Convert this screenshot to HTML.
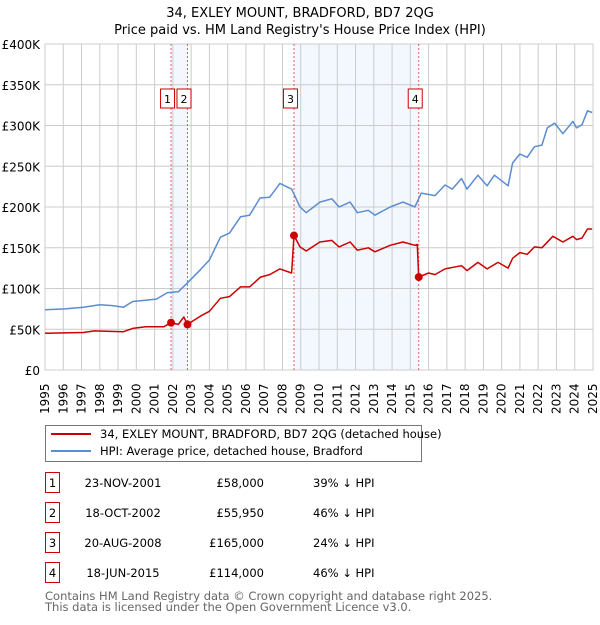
<!DOCTYPE html>
<html><head><meta charset="utf-8"><style>
body{margin:0;background:#fff;font-family:"Liberation Sans","DejaVu Sans",sans-serif;}
svg text{font-family:"DejaVu Sans","Liberation Sans",sans-serif;}
</style></head><body>
<svg id="c" width="600" height="620" xmlns="http://www.w3.org/2000/svg"></svg>
<script>
const hpiYears=[1995,1996.1,1997.1,1998,1998.7,1999.3,1999.8,2001.1,2001.7,2002.3,2002.8,2003.5,2004.0,2004.6,2005.1,2005.7,2006.2,2006.77,2007.3,2007.86,2008.5,2008.96,2009.3,2010.05,2010.7,2011.1,2011.7,2012.1,2012.7,2013.06,2013.9,2014.6,2015.25,2015.6,2016.35,2016.9,2017.3,2017.8,2018.1,2018.7,2019.2,2019.6,2020.35,2020.6,2021.0,2021.4,2021.8,2022.2,2022.5,2022.9,2023.35,2023.9,2024.1,2024.4,2024.7,2024.95];
const hpiValues=[74,75,77,80,79,77,84,87,95,96,107,123,135,163,168,188,190,211,212,229,222,200,193,206,210,200,206,193,196,190,200,206,200,217,214,227,222,235,222,239,226,239,226,254,265,261,274,276,297,303,290,305,297,301,318,316];
const priceYears=[1995,1997.1,1997.7,1999.3,1999.8,2000.5,2001.5,2001.9,2002.3,2002.6,2002.8,2003.5,2004.0,2004.6,2005.1,2005.7,2006.2,2006.8,2007.3,2007.86,2008.5,2008.63,2008.96,2009.3,2010.05,2010.7,2011.1,2011.7,2012.1,2012.7,2013.06,2013.9,2014.6,2015.25,2015.38,2015.46,2016.0,2016.35,2016.9,2017.8,2018.1,2018.7,2019.2,2019.8,2020.35,2020.6,2021.0,2021.4,2021.8,2022.2,2022.8,2023.35,2023.9,2024.1,2024.4,2024.7,2024.95];
const priceValues=[45,46,48,47,51,53,53,58,56,65,55.95,66,72,88,90,102,102,114,117,124,119,165,151,146,157,159,151,157,147,150,145,153,157,153,154,114,119,117,124,128,122,132,124,132,125,137,144,142,151,150,164,157,164,160,162,173,173];
const saleYears=[2001.9,2002.8,2008.63,2015.46];
const saleValues=[58,55.95,165,114];
const saleLabels=["1","2","3","4"];
const saleDates=["23-NOV-2001","18-OCT-2002","20-AUG-2008","18-JUN-2015"];
const salePrices=["£58,000","£55,950","£165,000","£114,000"];
const saleDiffs=["39% ↓ HPI","46% ↓ HPI","24% ↓ HPI","46% ↓ HPI"];
const yTicks=[0,50,100,150,200,250,300,350,400];
const yTickLabels=["£0","£50K","£100K","£150K","£200K","£250K","£300K","£350K","£400K"];
const xTicks=[1995,1996,1997,1998,1999,2000,2001,2002,2003,2004,2005,2006,2007,2008,2009,2010,2011,2012,2013,2014,2015,2016,2017,2018,2019,2020,2021,2022,2023,2024,2025];

const svg=document.getElementById('c');const NS='http://www.w3.org/2000/svg';
const L=45,R=593,T=44,B=370;
const X=y=>L+(y-1995)*(R-L)/30;
const Y=v=>B-v*(B-T)/400;
function mk(t,a,p){const e=document.createElementNS(NS,t);for(const k in a)e.setAttribute(k,a[k]);(p||svg).appendChild(e);return e;}
function tx(x,y,s,a){const e=mk('text',Object.assign({x:x,y:y},a||{}));e.textContent=s;return e;}

let e=tx(300,17,"34, EXLEY MOUNT, BRADFORD, BD7 2QG",{'text-anchor':'middle','font-size':13});

e=tx(300,34,"Price paid vs. HM Land Registry's House Price Index (HPI)",{'text-anchor':'middle','font-size':13});


// shading
for(let i=0;i<4;i+=2){
  e=mk('rect',{x:X(saleYears[i]),y:T,width:X(saleYears[i+1])-X(saleYears[i]),height:B-T,fill:'#eef3fd',opacity:0.7});
  
}
// grid
xTicks.forEach(t=>{e=mk('line',{x1:X(t),x2:X(t),y1:T,y2:B,stroke:'#cccccc','stroke-width':1});

e=tx(0,0,String(t),{'font-size':12,transform:`translate(${X(t)+4},${B+44}) rotate(-90)`});
});
yTicks.forEach((t,i)=>{e=mk('line',{x1:L,x2:R,y1:Y(t),y2:Y(t),stroke:'#cccccc','stroke-width':1});

e=tx(40,Y(t)+5,yTickLabels[i],{'text-anchor':'end','font-size':12});
});
e=mk('rect',{x:L,y:T,width:R-L,height:B-T,fill:'none',stroke:'#cccccc'});


// sale vlines + boxes
saleYears.forEach((s,i)=>{
  e=mk('line',{x1:X(s),x2:X(s),y1:T,y2:B,stroke:'#e06060','stroke-width':1,'stroke-dasharray':'2,2'});
  
  const bx=X(s)-10.5;
  e=mk('rect',{x:bx,y:89,width:14,height:19,fill:'#fff',stroke:'#cc0000','stroke-width':1});
  
  e=tx(bx+7,103,saleLabels[i],{'text-anchor':'middle','font-size':11});
  
});
function path(xs,vs,col,name){
  const d=xs.map((x,i)=>(i?'L':'M')+X(x).toFixed(1)+','+Y(vs[i]).toFixed(1)).join('');
  const p=mk('path',{d:d,fill:'none',stroke:col,'stroke-width':1.5,'stroke-linejoin':'round'});
  
}
path(hpiYears,hpiValues,'#5b8dd0','hpi-line');
path(priceYears,priceValues,'#cc0000','price-paid-line');
saleYears.forEach((s,i)=>{e=mk('circle',{cx:X(s),cy:Y(saleValues[i]),r:4,fill:'#cc0000'});
});

// legend
e=mk('rect',{x:45.5,y:425.5,width:376,height:36,fill:'#fff',stroke:'#777'});

e=mk('line',{x1:51,x2:91,y1:434,y2:434,stroke:'#cc0000','stroke-width':2});

e=tx(100,438,"34, EXLEY MOUNT, BRADFORD, BD7 2QG (detached house)",{'font-size':11.5});

e=mk('line',{x1:51,x2:91,y1:451,y2:451,stroke:'#5b8dd0','stroke-width':2});

e=tx(100,455,"HPI: Average price, detached house, Bradford",{'font-size':11.5});


// table
saleLabels.forEach((l,i)=>{
  const cy=483+i*30;
  e=mk('rect',{x:45.5,y:cy-10.5,width:14,height:20,fill:'#fff',stroke:'#cc0000'});
  
  e=tx(52.5,cy+4,l,{'text-anchor':'middle','font-size':11.5});
  
  e=tx(123,cy+4,saleDates[i],{'text-anchor':'middle','font-size':11.5});
  
  e=tx(264,cy+4,salePrices[i],{'text-anchor':'end','font-size':11.5});
  
  e=tx(313,cy+4,saleDiffs[i],{'font-size':11.5});
  
});
e=tx(45,600,"Contains HM Land Registry data © Crown copyright and database right 2025.",{'font-size':11.5,fill:'#666'});

e=tx(45,611,"This data is licensed under the Open Government Licence v3.0.",{'font-size':11.5,fill:'#666'});

</script>
</body></html>
